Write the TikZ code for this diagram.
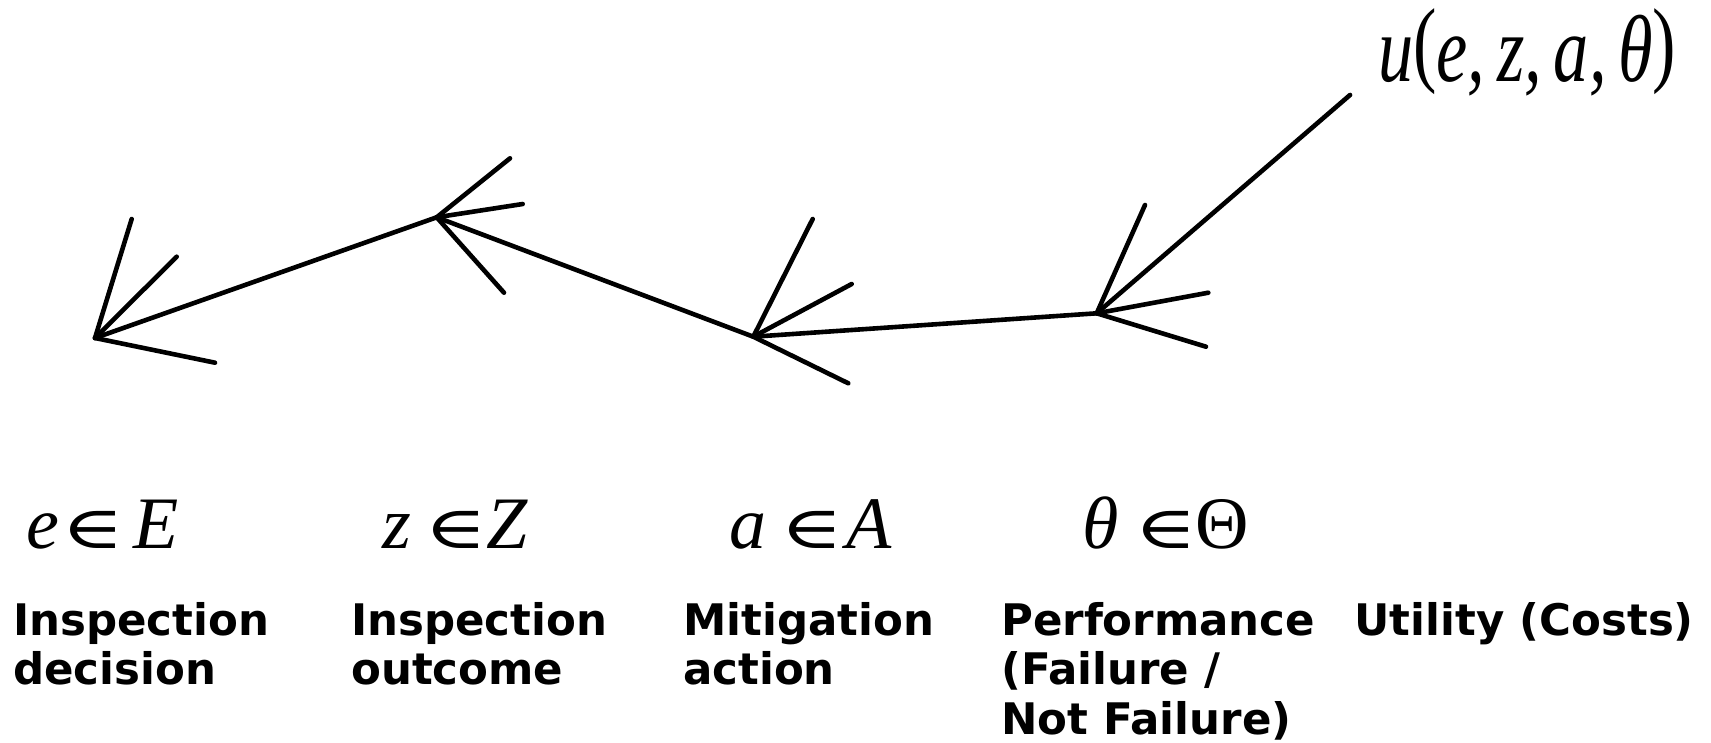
\documentclass[tikz,border=0pt]{standalone}
\usepackage{fontspec}
\setmainfont{Liberation Serif}
\newfontfamily\captionfont{DejaVu Sans}
\newfontfamily\relfont{DejaVu Serif}
\newcommand{\elem}{\scalebox{1.15}[0.8]{\relfont ∈}}
% put #2 at horizontal offset #1 from the start of the label
\newcommand{\placeat}[2]{\makebox[0pt][l]{\hspace*{#1}#2}}
\begin{document}
\begin{tikzpicture}[x=1pt,y=-1pt,
  link/.style={line width=4.6pt,line cap=round,line join=round},
  barb/.style={line width=4.6pt,line cap=round},
  setlabel/.style={inner sep=0pt,anchor=base west,font=\fontsize{74}{80}\selectfont},
  caption/.style={inner sep=0pt,anchor=base west,align=left,
    font=\captionfont\bfseries\fontsize{43.5}{49.5}\selectfont}]
\useasboundingbox (0,0) rectangle (1711,742);

% chain vertices
\coordinate (E) at (95,338);
\coordinate (Z) at (436.7,217.3);
\coordinate (A) at (753.3,336.7);
\coordinate (T) at (1096.7,313.3);
\coordinate (U) at (1350,95);

% barb ends at each vertex
\coordinate (e1) at (131.7,219);
\coordinate (e2) at (176.7,256.7);
\coordinate (e3) at (215,362.7);
\coordinate (z1) at (510,158.3);
\coordinate (z2) at (522.7,204);
\coordinate (z3) at (504,292.7);
\coordinate (a1) at (812.7,219);
\coordinate (a2) at (851.7,284);
\coordinate (a3) at (848.3,383.3);
\coordinate (t1) at (1145,205);
\coordinate (t2) at (1208.3,292.7);
\coordinate (t3) at (1206,346.7);

% connectors
\draw[link] (U) -- (T);
\draw[link] (T) -- (A);
\draw[link] (A) -- (Z);
\draw[link] (Z) -- (E);

% barbs
\foreach \v/\p in {E/e,Z/z,A/a,T/t}{
  \draw[barb] (\v) -- (\p1);
  \draw[barb] (\v) -- (\p2);
  \draw[barb] (\v) -- (\p3);
}

% utility function
\node[inner sep=0pt,anchor=base west,font=\fontsize{95}{100}\selectfont] (util) at (1378,81.7)
  {\scalebox{0.74}[1]{\itshape u\upshape\raisebox{7pt}{(}\itshape e,\,z,\,a,\,θ\upshape\raisebox{7pt}{)}}};

% variable sets
\node[setlabel] (eset) at (26,548)
  {\placeat{0pt}{\itshape e}\placeat{35pt}{\elem}\placeat{107pt}{\itshape E}};
\node[setlabel] (zset) at (382,548)
  {\placeat{0pt}{\itshape z}\placeat{42pt}{\elem}\placeat{104pt}{\itshape Z}};
\node[setlabel] (aset) at (729,548)
  {\placeat{0pt}{\itshape a}\placeat{51pt}{\elem}\placeat{117pt}{\itshape A}};
\node[setlabel] (tset) at (1082,548)
  {\placeat{0pt}{\itshape θ}\placeat{52pt}{\elem}\placeat{113pt}{Θ}};

% captions (anchored at the baseline of their last line)
\node[caption] (c1) at (13,684.5) {Inspection\\decision};
\node[caption] (c2) at (351,684.5) {Inspection\\outcome};
\node[caption] (c3) at (683,684.5) {Mitigation\\action};
\node[caption] (c4) at (1001,734) {Performance\\(Failure /\\Not Failure)};
\node[caption,anchor=base east] (c5) at (1694,635) {Utility (Costs)};
\end{tikzpicture}
\end{document}
